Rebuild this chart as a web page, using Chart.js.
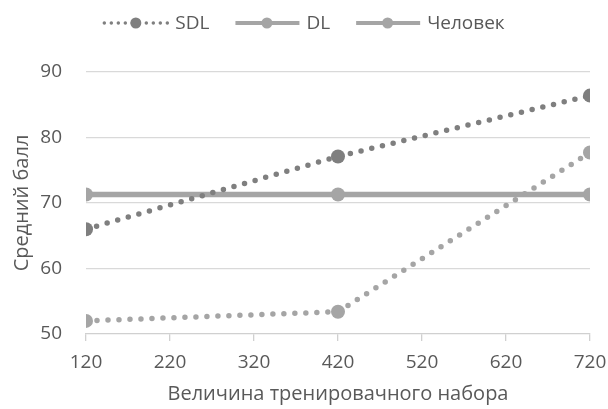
<!DOCTYPE html>
<html>
<head>
<meta charset="utf-8">
<script src="https://cdn.jsdelivr.net/npm/chart.js@4.4.1/dist/chart.umd.min.js"></script>
<style>
html,body{margin:0;padding:0;background:#fff;}
#wrap{width:608px;height:409px;}
</style>
</head>
<body>
<div id="wrap"><canvas id="c" width="608" height="409"></canvas></div>
<script>
const xValues = [120, 420, 720];
const sdlValues = [66.0, 77.1, 86.4];
const dlValues = [52.0, 53.4, 77.7];
const humanValues = [71.3, 71.3, 71.3];
const seriesNames = ['SDL', 'DL', 'Человек'];
const xTitle = 'Величина тренировачного набора';
const yTitle = 'Средний балл';

const FONT = '"Open Sans", sans-serif';
const TEXT = '#595959';
const DARK = '#7f7f7f';
const LIGHT = '#a5a5a5';

function pts(vals) { return xValues.map((x, i) => ({x: x, y: vals[i]})); }

const styles = [
  {color: DARK, dashed: true},
  {color: LIGHT, dashed: true},
  {color: LIGHT, dashed: false}
];

const legendPlugin = {
  id: 'xlLegend',
  afterDraw(chart) {
    const ctx = chart.ctx;
    ctx.save();
    ctx.font = '19px ' + FONT;
    const lineLen = 65, gapText = 7, gapItem = 25, y = 23;
    const widths = seriesNames.map(n => ctx.measureText(n).width);
    let total = 0;
    widths.forEach(w => total += lineLen + gapText + w);
    total += gapItem * (seriesNames.length - 1);
    let x = 608 / 2 - total / 2;
    seriesNames.forEach((name, i) => {
      const st = styles[i];
      ctx.strokeStyle = st.color;
      ctx.fillStyle = st.color;
      ctx.lineCap = 'round';
      if (i === 0) {
        ctx.lineWidth = 3.5;
        ctx.setLineDash([0, 7]);
      } else {
        ctx.lineWidth = 4;
        ctx.lineCap = 'butt';
        ctx.setLineDash([]);
      }
      ctx.beginPath();
      ctx.moveTo(x + 1, y);
      ctx.lineTo(x + lineLen, y);
      ctx.stroke();
      ctx.setLineDash([]);
      ctx.beginPath();
      ctx.arc(x + lineLen / 2, y, 5.5, 0, Math.PI * 2);
      ctx.fill();
      ctx.fillStyle = TEXT;
      ctx.textBaseline = 'middle';
      ctx.textAlign = 'left';
      ctx.fillText(name, x + lineLen + gapText, y + 1);
      x += lineLen + gapText + widths[i] + gapItem;
    });
    ctx.restore();
  }
};

const datasets = [sdlValues, dlValues, humanValues].map((vals, i) => ({
  label: seriesNames[i],
  data: pts(vals),
  borderColor: styles[i].color,
  backgroundColor: styles[i].color,
  pointBackgroundColor: styles[i].color,
  pointBorderColor: styles[i].color,
  pointBorderWidth: 0,
  pointRadius: 7,
  pointHoverRadius: 7,
  borderWidth: 5.5,
  borderDash: styles[i].dashed ? [0, 11] : [],
  borderCapStyle: styles[i].dashed ? 'round' : 'butt',
  tension: 0,
  fill: false
}));

new Chart(document.getElementById('c'), {
  type: 'line',
  data: {datasets: datasets},
  plugins: [legendPlugin],
  options: {
    responsive: false,
    animation: false,
    devicePixelRatio: 1,
    layout: {padding: {top: 72, right: 18, left: 0, bottom: 0}},
    plugins: {legend: {display: false}, tooltip: {enabled: false}},
    scales: {
      x: {
        type: 'linear',
        min: 120, max: 720,
        ticks: {stepSize: 100, color: TEXT, font: {family: FONT, size: 19}, padding: 10, maxRotation: 0},
        grid: {drawOnChartArea: false, drawTicks: true, tickLength: 7, color: '#d0d0d0', lineWidth: 1.3},
        border: {display: true, color: '#d0d0d0', width: 1.3},
        title: {display: true, text: xTitle, color: TEXT, font: {family: FONT, size: 20}, padding: {top: 0, bottom: 3}},
        afterFit: s => { s.height = 75; s.paddingLeft = 0; s.paddingRight = 0; }
      },
      y: {
        min: 50, max: 90,
        ticks: {stepSize: 10, color: TEXT, font: {family: FONT, size: 19}, padding: 24},
        grid: {drawTicks: false, color: ctx => ctx.tick && ctx.tick.value === 50 ? 'rgba(0,0,0,0)' : '#d9d9d9', lineWidth: 1.3},
        border: {display: false},
        title: {display: true, text: yTitle, color: TEXT, font: {family: FONT, size: 20}, padding: {top: 10.5, bottom: 0}},
        afterFit: s => { s.width = 86; }
      }
    }
  }
});
</script>
</body>
</html>
